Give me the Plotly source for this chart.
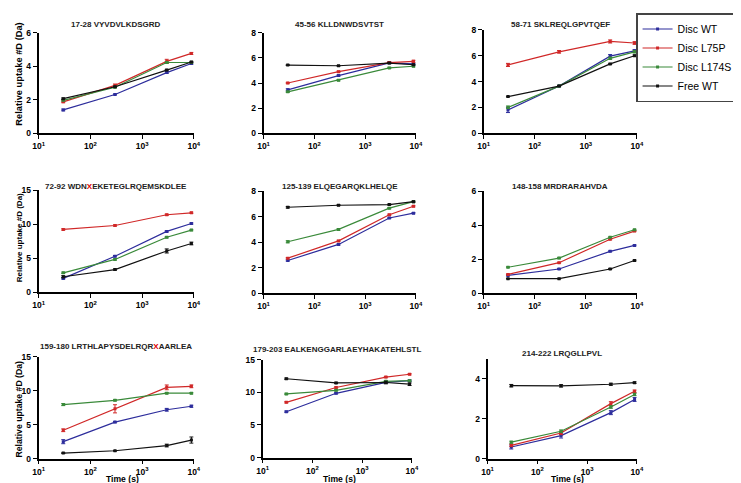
import plotly.graph_objects as go

W, H = 741, 483

times = [30, 300, 3000, 9000]

panel_titles = [
    "17-28 VYVDVLKDSGRD",
    "45-56 KLLDNWDSVTST",
    "58-71 SKLREQLGPVTQEF",
    "72-92 WDN<span style='color:#e00000'>X</span>EKETEGLRQEMSKDLEE",
    "125-139 ELQEGARQKLHELQE",
    "148-158 MRDRARAHVDA",
    "159-180 LRTHLAPYSDELRQR<span style='color:#e00000'>X</span>AARLEA",
    "179-203 EALKENGGARLAEYHAKATEHLSTL",
    "214-222 LRQGLLPVL",
]

series_names = ["Disc WT", "Disc L75P", "Disc L174S", "Free WT"]

disc_wt = [
    [1.40, 2.32, 3.62, 4.16],
    [3.46, 4.59, 5.60, 5.52],
    [1.81, 3.65, 5.96, 6.36],
    [2.02, 5.29, 8.94, 10.10],
    [2.56, 3.82, 5.90, 6.28],
    [1.04, 1.42, 2.46, 2.81],
    [2.49, 5.37, 7.19, 7.71],
    [7.03, 9.85, 11.53, 11.78],
    [0.58, 1.15, 2.30, 2.96],
]
disc_l75p = [
    [1.88, 2.86, 4.29, 4.76],
    [4.00, 4.90, 5.62, 5.72],
    [5.28, 6.29, 7.09, 6.97],
    [9.23, 9.81, 11.39, 11.68],
    [2.74, 4.10, 6.15, 6.82],
    [1.10, 1.79, 3.17, 3.65],
    [4.17, 7.33, 10.49, 10.64],
    [8.47, 10.74, 12.33, 12.77],
    [0.66, 1.28, 2.75, 3.37],
]
disc_l174s = [
    [1.97, 2.75, 4.22, 4.22],
    [3.30, 4.22, 5.20, 5.33],
    [2.01, 3.65, 5.79, 6.29],
    [2.84, 4.81, 8.08, 9.13],
    [4.03, 5.00, 6.67, 7.18],
    [1.52, 2.06, 3.29, 3.73],
    [7.95, 8.58, 9.63, 9.63],
    [9.75, 10.30, 11.68, 11.78],
    [0.82, 1.37, 2.58, 3.21],
]
free_wt = [
    [2.07, 2.78, 3.77, 4.25],
    [5.42, 5.37, 5.58, 5.45],
    [2.84, 3.65, 5.36, 5.99],
    [2.26, 3.32, 6.06, 7.16],
    [6.74, 6.90, 6.95, 7.18],
    [0.85, 0.85, 1.42, 1.92],
    [0.81, 1.15, 1.92, 2.73],
    [12.08, 11.44, 11.50, 11.24],
    [3.65, 3.64, 3.72, 3.80],
]

err_disc_wt = [
    [0.05, 0.03, 0.05, 0.05], [0.08, 0.05, 0.06, 0.05], [0.20, 0.05, 0.12, 0.10],
    [0.10, 0.10, 0.10, 0.10], [0.05, 0.05, 0.05, 0.05], [0.03, 0.03, 0.03, 0.03],
    [0.30, 0.10, 0.20, 0.15], [0.10, 0.10, 0.15, 0.10], [0.10, 0.12, 0.10, 0.10],
]
err_disc_l75p = [
    [0.05, 0.08, 0.12, 0.06], [0.05, 0.05, 0.06, 0.08], [0.12, 0.10, 0.12, 0.10],
    [0.10, 0.10, 0.10, 0.10], [0.05, 0.05, 0.05, 0.05], [0.03, 0.03, 0.03, 0.03],
    [0.20, 0.60, 0.35, 0.20], [0.10, 0.10, 0.10, 0.10], [0.06, 0.08, 0.10, 0.06],
]
err_disc_l174s = [
    [0.04, 0.04, 0.05, 0.04], [0.05, 0.05, 0.05, 0.05], [0.10, 0.05, 0.08, 0.08],
    [0.10, 0.10, 0.10, 0.10], [0.08, 0.06, 0.05, 0.05], [0.03, 0.04, 0.03, 0.03],
    [0.15, 0.10, 0.10, 0.10], [0.10, 0.10, 0.10, 0.10], [0.05, 0.06, 0.06, 0.06],
]
err_free_wt = [
    [0.04, 0.03, 0.04, 0.04], [0.03, 0.03, 0.05, 0.04], [0.03, 0.03, 0.04, 0.06],
    [0.15, 0.10, 0.30, 0.20], [0.06, 0.04, 0.04, 0.04], [0.02, 0.02, 0.03, 0.03],
    [0.05, 0.05, 0.20, 0.45], [0.10, 0.10, 0.20, 0.20], [0.06, 0.06, 0.05, 0.04],
]

y_max = [6, 8, 8, 15, 8, 6, 15, 15, 5]
y_dtick = [2, 2, 2, 5, 2, 2, 5, 5, 2]

x_tickvals = [10, 100, 1000, 10000]
x_ticktext = ["10<sup>1</sup>", "10<sup>2</sup>", "10<sup>3</sup>", "10<sup>4</sup>"]

colors = ["#2d2d9c", "#d02828", "#3a8a3a", "#111111"]

# panel pixel boxes: (x_left, x_right, y_top, y_bottom)
boxes = [
    (25, 183, 20, 123), (254, 409, 20, 123), (478, 634, 17, 123),
    (25, 183, 181, 285), (254, 409, 182, 286), (478, 634, 182, 286),
    (25, 183, 351, 455), (253, 405, 354, 454), (482, 634, 353, 455),
]
title_y = [12, 12, 12, 177, 177, 177, 341, 344, 348]

fig = go.Figure()
all_series = [disc_wt, disc_l75p, disc_l174s, free_wt]
all_err = [err_disc_wt, err_disc_l75p, err_disc_l174s, err_free_wt]

FONT = "Liberation Sans, Arial, sans-serif"

for p in range(9):
    ax = "" if p == 0 else str(p + 1)
    for s in range(4):
        fig.add_trace(go.Scatter(
            x=times, y=all_series[s][p],
            mode="lines+markers",
            name=series_names[s],
            legendgroup=series_names[s],
            showlegend=(p == 0),
            line=dict(color=colors[s], width=1.2),
            marker=dict(symbol="square", size=3, color=colors[s]),
            error_y=dict(type="data", array=all_err[s][p], color=colors[s],
                         thickness=1, width=2),
            xaxis="x" + ax, yaxis="y" + ax,
        ))
    xl, xr, yt, yb = boxes[p]
    fig.update_layout(**{
        "xaxis" + ax: dict(
            domain=[xl / W, xr / W], anchor="y" + ax, type="log", range=[1, 4],
            tickvals=x_tickvals, ticktext=x_ticktext,
            showline=True, linecolor="black", linewidth=1.6,
            ticks="outside", ticklen=4, tickwidth=1.4, tickcolor="black",
            showgrid=False, zeroline=False,
            tickfont=dict(family=FONT, size=8.5, color="black", weight="bold"),
        ),
        "yaxis" + ax: dict(
            domain=[(H - yb) / H, (H - yt) / H], anchor="x" + ax,
            range=[0, y_max[p]], dtick=y_dtick[p], tick0=0,
            showline=True, linecolor="black", linewidth=1.6,
            ticks="outside", ticklen=4, tickwidth=1.4, tickcolor="black",
            showgrid=False, zeroline=False,
            tickfont=dict(family=FONT, size=8.5, color="black", weight="bold"),
        ),
    })
    fig.add_annotation(
        text="<b>" + panel_titles[p] + "</b>", xref="paper", yref="paper",
        x=(xl + xr) / 2 / W, y=(H - title_y[p]) / H,
        xanchor="center", yanchor="middle", showarrow=False,
        font=dict(family=FONT, size=8, color="#222222"),
    )

# y-axis titles (column 1)
ytitle_cy = [62, 229, 404]
ytitle_size = [9.3, 8.0, 8.7]
for cy, fs in zip(ytitle_cy, ytitle_size):
    fig.add_annotation(
        text="<b>Relative uptake #D (Da)</b>", xref="paper", yref="paper",
        x=5 / W, y=(H - cy) / H, xanchor="center", yanchor="middle",
        textangle=-90, showarrow=False,
        font=dict(family=FONT, size=fs, color="black"),
    )

# x-axis titles (row 3)
for cx in [110, 331, 563]:
    fig.add_annotation(
        text="<b>Time (s)</b>", xref="paper", yref="paper",
        x=cx / W, y=0, xanchor="center", yanchor="bottom",
        showarrow=False, font=dict(family=FONT, size=8.6, color="black"),
    )

fig.update_layout(
    width=W, height=H,
    margin=dict(l=0, r=0, t=0, b=0),
    paper_bgcolor="white", plot_bgcolor="white",
    showlegend=True,
    legend=dict(
        x=737 / W, y=1, xanchor="right", yanchor="top",
        bordercolor="#444444", borderwidth=1.5, bgcolor="white",
        font=dict(family="Arial", size=10.5, color="black"),
        itemwidth=30, tracegroupgap=0,
    ),
)

fig.write_html("out.html")
